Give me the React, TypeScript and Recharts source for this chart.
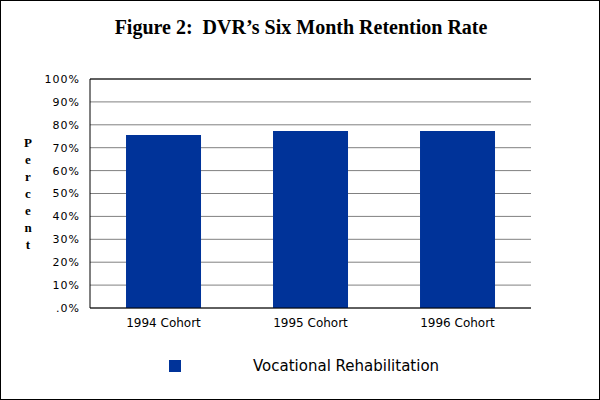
import { BarChart, Bar, XAxis, YAxis, CartesianGrid, ReferenceLine } from "recharts";

const cohorts = ["1994 Cohort", "1995 Cohort", "1996 Cohort"];
const retention = [75.5, 77.3, 77.3];
const yTicks = [0, 10, 20, 30, 40, 50, 60, 70, 80, 90, 100];
const yLabelLetters = ["P", "e", "r", "c", "e", "n", "t"];
const seriesName = "Vocational Rehabilitation";

const data = cohorts.map((c, i) => ({ cohort: c, rate: retention[i] }));

const BLUE = "#003399";

function PercentLabel() {
  return (
    <text
      x={28}
      y={147}
      textAnchor="middle"
      fontFamily="Liberation Serif, serif"
      fontWeight="bold"
      fontSize={13}
      fill="#000"
    >
      {yLabelLetters.map((ch, i) => (
        <tspan key={i} x={28} dy={i === 0 ? 0 : 17}>
          {ch}
        </tspan>
      ))}
    </text>
  );
}

export default function App() {
  return (
    <div
      style={{
        position: "absolute",
        left: 0,
        top: 0,
        width: 600,
        height: 400,
        background: "#fff",
        border: "1px solid #000",
        boxSizing: "border-box",
      }}
    >
      <div
        style={{
          position: "absolute",
          left: 0,
          top: 15,
          width: 600,
          textAlign: "center",
          fontFamily: "Liberation Serif, serif",
          fontWeight: "bold",
          fontSize: 20,
          color: "#000",
        }}
      >
        Figure 2:&nbsp; DVR’s Six Month Retention Rate
      </div>
      <div style={{ position: "absolute", left: -1, top: -1 }}>
        <BarChart
          width={600}
          height={400}
          data={data}
          margin={{ top: 79, right: 69, left: 40, bottom: 72 }}
          barCategoryGap="24.5%"
        >
          <CartesianGrid yAxisId="left" horizontal vertical={false} stroke="#808080" />
          <XAxis
            dataKey="cohort"
            tickLine={false}
            tickSize={0}
            tickMargin={10}
            axisLine={{ stroke: "#000" }}
            tick={{ fill: "#000", fontSize: 12, fontFamily: "DejaVu Sans, sans-serif" }}
            height={20}
          />
          <YAxis
            yAxisId="left"
            domain={[0, 100]}
            ticks={yTicks}
            interval={0}
            width={50}
            tickLine={false}
            tickSize={0}
            tickMargin={10}
            axisLine={{ stroke: "#000" }}
            tickFormatter={(v: number) => (v === 0 ? ".0%" : `${v}%`)}
            tick={{
              fill: "#000",
              fontSize: 11,
              fontFamily: "DejaVu Sans, sans-serif",
              letterSpacing: 1,
            }}
            label={{ content: () => <PercentLabel /> }}
          />
          <YAxis
            yAxisId="right"
            orientation="right"
            domain={[0, 100]}
            width={0}
            tick={false}
            tickLine={false}
            axisLine={{ stroke: "#000" }}
          />
          <ReferenceLine yAxisId="left" y={100} stroke="#000" />
          <Bar
            yAxisId="left"
            dataKey="rate"
            name={seriesName}
            fill={BLUE}
            isAnimationActive={false}
          />
        </BarChart>
      </div>
      <div
        style={{
          position: "absolute",
          left: 168,
          top: 359,
          width: 12,
          height: 12,
          background: BLUE,
        }}
      />
      <div
        style={{
          position: "absolute",
          left: 252,
          top: 355,
          fontFamily: "DejaVu Sans, sans-serif",
          fontSize: 15,
          lineHeight: "20px",
          color: "#000",
        }}
      >
        {seriesName}
      </div>
    </div>
  );
}
